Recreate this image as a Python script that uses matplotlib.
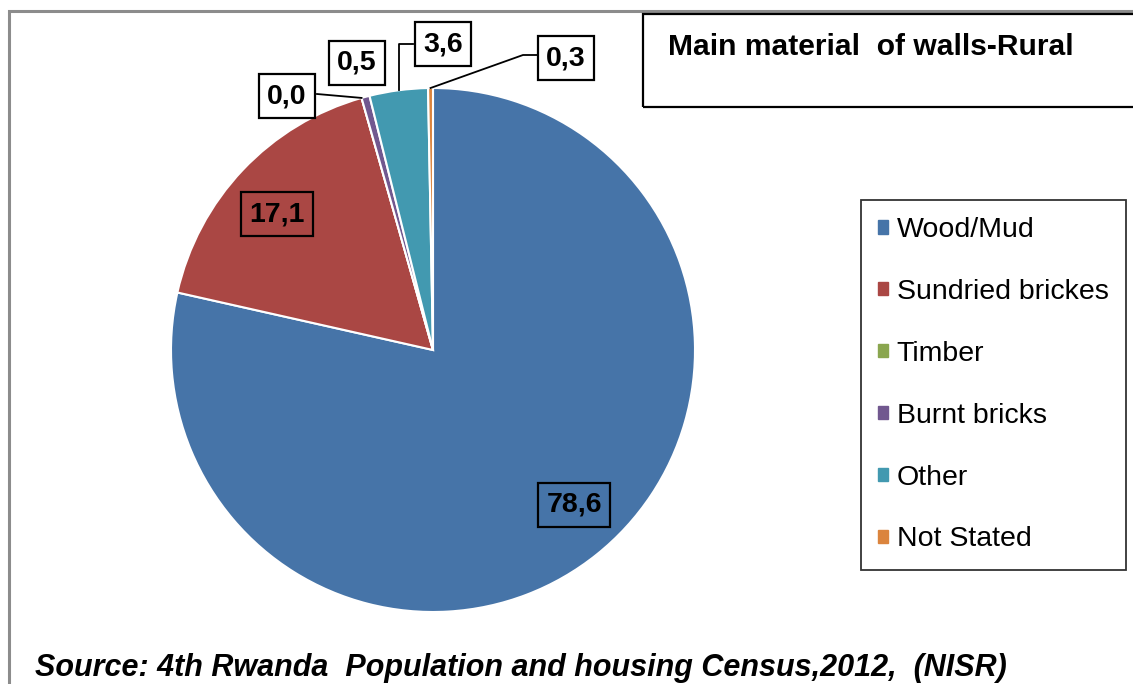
"""
Main material of walls - Rural
==============================

Pie chart of wall materials (rural households), 4th RPHC 2012.
"""

import numpy as np
import matplotlib
matplotlib.use('Agg')
import matplotlib.pyplot as plt
from matplotlib.patches import Rectangle, Patch

# data
categories = ['Wood/Mud', 'Sundried brickes', 'Timber', 'Burnt bricks', 'Other', 'Not Stated']
values = [78.6, 17.1, 0.0, 0.5, 3.6, 0.3]
value_labels = ['78,6', '17,1', '0,0', '0,5', '3,6', '0,3']
colors = ['#4674A8', '#AA4744', '#8AA64F', '#71588F', '#4299B0', '#DB843D']

TITLE = 'Main material  of walls-Rural'
SOURCE = 'Source: 4th Rwanda  Population and housing Census,2012,  (NISR)'

W, H = 1133, 684
DPI = 100


def px(x, y):
    """pixel (from top-left) -> figure fraction"""
    return x / W, 1 - y / H


def wedge_point(wedge, frac=1.0, at=0.5):
    """point on wedge at fraction of radius, angle position 'at' within wedge"""
    a = np.deg2rad(wedge.theta1 + (wedge.theta2 - wedge.theta1) * at)
    return frac * np.cos(a), frac * np.sin(a)


def main():
    fig = plt.figure(figsize=(W / DPI, H / DPI), dpi=DPI)
    plt.rcParams['font.family'] = ['Liberation Sans', 'DejaVu Sans']

    # outer chart frame (gray)
    fig.add_artist(Rectangle(px(9, 700), 1200 / W, (700 - 11) / H, transform=fig.transFigure,
                             fill=False, edgecolor='#8c8c8c', linewidth=2.2))

    # pie axes: center (433, 350), radius 262 px
    cx, cy, r = 433, 350, 262
    l, b = px(cx - r, cy + r)
    ax = fig.add_axes([l, b, 2 * r / W, 2 * r / H])
    wedges, _ = ax.pie(values, colors=colors, startangle=90, counterclock=False,
                       radius=1.0, wedgeprops=dict(edgecolor='white', linewidth=1.5))
    ax.set_xlim(-1, 1)
    ax.set_ylim(-1, 1)
    ax.axis('off')

    box = dict(boxstyle='square,pad=0.3', facecolor='none', edgecolor='black', linewidth=1.6)
    box_w = dict(box, facecolor='white')
    label_kw = dict(fontsize=20.5, fontweight='bold', ha='center', va='center',
                    xycoords='data', textcoords='offset pixels')

    # inside labels
    for i, pos in [(0, (574, 505)), (1, (277, 214))]:
        ax.annotate(value_labels[i], xy=(0, 0), xytext=(pos[0] - cx, cy - pos[1]),
                    bbox=box, **label_kw)

    # outside labels with leaders
    outside = {2: (287, 96), 3: (357, 63), 4: (443, 44), 5: (566, 58)}
    for i, pos in outside.items():
        ax.annotate(value_labels[i], xy=(0, 0), xytext=(pos[0] - cx, cy - pos[1]),
                    bbox=box_w, zorder=5, **label_kw)

    def to_data(xp, yp):
        return (xp - cx) / r, (cy - yp) / r

    # leader lines
    ex, ey = wedge_point(wedges[2])
    x0, y0 = to_data(317, 94)
    ax.plot([x0, ex], [y0, ey], color='black', lw=1.3, clip_on=False)
    ex, ey = wedge_point(wedges[4])
    x0, y0 = to_data(413, 44)
    ax.plot([x0, ex, ex], [y0, y0, ey], color='black', lw=1.3, clip_on=False)
    ex, ey = wedge_point(wedges[5])
    x0, y0 = to_data(537, 55)
    x1, y1 = to_data(523, 55)
    ax.plot([x0, x1, ex], [y0, y1, ey], color='black', lw=1.3, clip_on=False)

    # title box
    fig.add_artist(Rectangle(px(643, 107), 600 / W, 93 / H, transform=fig.transFigure,
                             fill=False, edgecolor='black', linewidth=1.6))
    fig.text(*px(668, 47), TITLE, fontsize=21.6, fontweight='bold', ha='left', va='center')

    # legend
    handles = [Patch(facecolor=c, edgecolor=c) for c in colors]
    leg = fig.legend(handles, categories, loc='upper left', bbox_to_anchor=px(861, 200),
                     frameon=True, fancybox=False, fontsize=20.5, handlelength=0.35,
                     handleheight=0.35, handletextpad=0.3, labelspacing=1.26,
                     borderpad=0.6, borderaxespad=0)
    leg.get_frame().set_edgecolor('black')
    leg.get_frame().set_linewidth(1.3)

    # source
    fig.text(*px(35, 668), SOURCE, fontsize=22, fontweight='bold', fontstyle='italic',
             ha='left', va='center')

    fig.savefig('out.png', dpi=DPI)


if __name__ == "__main__":
    main()
